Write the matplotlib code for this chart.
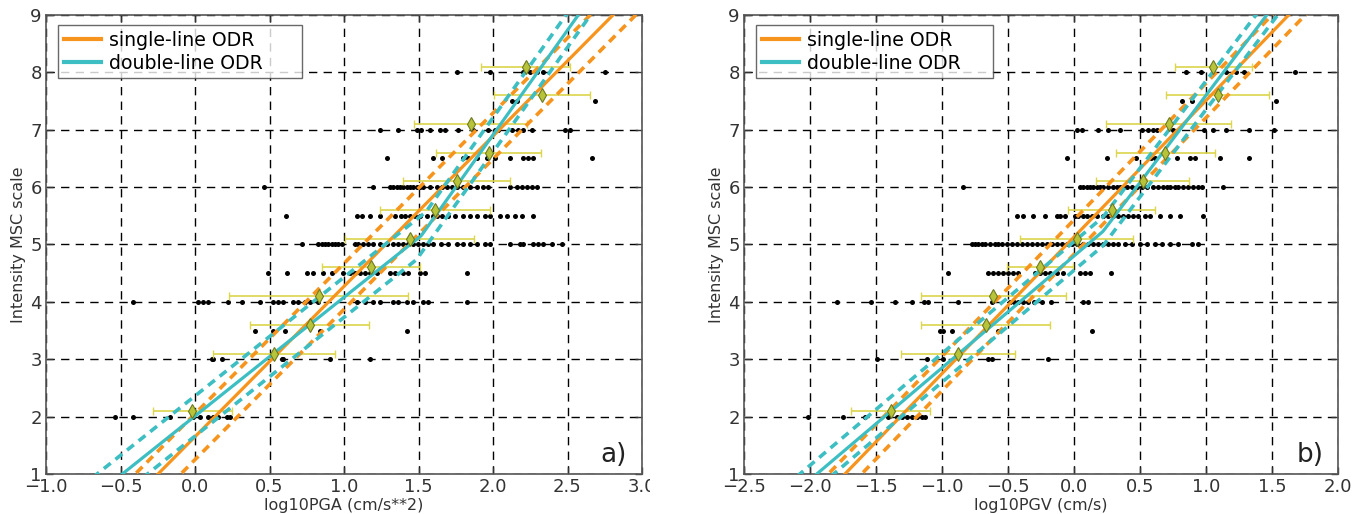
import numpy as np
import matplotlib
matplotlib.use("Agg")
import matplotlib.pyplot as plt
from matplotlib.transforms import Bbox

# ---------------- data: panel a) PGA ----------------
pga_points = {
    2.0: [-0.537, -0.414, -0.168, -0.011, 0.034, 0.089, 0.123, 0.157, 0.213, 0.235],
    3.0: [0.112, 0.123, 0.179, 0.582, 0.593, 0.906, 1.174],
    3.5: [0.403, 0.526, 0.604, 0.839, 1.421],
    4.0: [-0.416, 0.020, 0.054, 0.087, 0.221, 0.315, 0.436, 0.523, 0.557, 0.591, 0.658, 0.691,
          0.738, 0.772, 0.826, 1.087, 1.141, 1.195, 1.242, 1.329, 1.362, 1.423, 1.463, 1.530,
          1.564, 1.826],
    4.5: [0.490, 0.617, 0.752, 0.792, 0.859, 0.919, 0.993, 1.040, 1.074, 1.107, 1.141, 1.174,
          1.221, 1.309, 1.342, 1.396, 1.430, 1.510, 1.544, 1.826],
    5.0: [0.718, 0.826, 0.852, 0.872, 0.893, 0.919, 0.940, 0.960, 0.987, 1.074, 1.094, 1.128,
          1.161, 1.195, 1.242, 1.289, 1.329, 1.362, 1.396, 1.430, 1.463, 1.497, 1.530, 1.564,
          1.597, 1.651, 1.698, 1.758, 1.799, 1.846, 1.893, 1.946, 1.980, 2.114, 2.181, 2.201,
          2.268, 2.302, 2.336, 2.396, 2.463],
    5.5: [0.611, 1.087, 1.121, 1.174, 1.242, 1.342, 1.383, 1.409, 1.443, 1.477, 1.510, 1.557,
          1.597, 1.624, 1.658, 1.698, 1.745, 1.799, 1.846, 1.893, 1.946, 1.980, 2.047, 2.094,
          2.148, 2.195, 2.268],
    6.0: [0.463, 1.195, 1.309, 1.329, 1.356, 1.376, 1.396, 1.423, 1.443, 1.463, 1.490, 1.510,
          1.530, 1.577, 1.624, 1.658, 1.691, 1.725, 1.758, 1.799, 1.846, 1.893, 1.933, 1.966,
          2.114, 2.161, 2.195, 2.228, 2.262, 2.295],
    6.5: [1.289, 1.597, 1.658, 1.799, 1.832, 1.893, 1.960, 2.013, 2.114, 2.201, 2.235, 2.268, 2.664],
    7.0: [1.242, 1.362, 1.490, 1.517, 1.577, 1.644, 1.678, 1.765, 1.866, 1.966, 2.013, 2.034,
          2.128, 2.168, 2.201, 2.262, 2.483, 2.517],
    7.5: [2.125, 2.159, 2.685],
    8.0: [1.758, 1.980, 2.201, 2.248, 2.295, 2.336, 2.752],
}
pga_mean_y = [2.1, 3.1, 3.6, 4.1, 4.6, 5.1, 5.6, 6.1, 6.6, 7.1, 7.6, 8.1]
pga_mean_x = [-0.02, 0.53, 0.77, 0.83, 1.18, 1.44, 1.61, 1.756, 1.97, 1.85, 2.33, 2.22]
pga_err_x = [0.265, 0.41, 0.40, 0.60, 0.33, 0.43, 0.37, 0.36, 0.35, 0.38, 0.32, 0.30]

# single-line ODR (slope, intercept, band half-width in intensity)
pga_single = (2.62, 1.65, 0.40)
# double-line ODR: (slope, intercept, band) for lower and upper branch
pga_double_low = (2.07, 2.01, 0.35)
pga_double_high = (3.65, -0.389, 0.30)

# ---------------- data: panel b) PGV ----------------
pgv_points = {
    2.0: [-2.013, -1.748, -1.583, -1.407, -1.343, -1.305, -1.268, -1.230, -1.192, -1.154, -1.129],
    3.0: [-1.495, -1.116, -0.990, -0.649, -0.624, -0.195],
    3.5: [-1.015, -0.990, -0.927, -0.574, 0.134],
    4.0: [-1.795, -1.538, -1.356, -1.227, -1.136, -1.106, -0.879, -0.621, -0.485, -0.455,
          -0.424, -0.386, -0.348, -0.303, -0.242, -0.174, 0.068, 0.106],
    4.5: [-0.955, -0.652, -0.614, -0.576, -0.538, -0.500, -0.462, -0.424, -0.295, -0.258,
          -0.220, -0.182, -0.129, -0.083, 0.045, 0.083, 0.121, 0.280],
    5.0: [-0.773, -0.750, -0.727, -0.697, -0.674, -0.636, -0.598, -0.576, -0.545, -0.508,
          -0.470, -0.432, -0.394, -0.356, -0.318, -0.280, -0.242, -0.205, -0.167, -0.129,
          -0.091, -0.053, -0.015, 0.023, 0.068, 0.106, 0.144, 0.182, 0.220, 0.258, 0.295,
          0.333, 0.386, 0.439, 0.500, 0.553, 0.614, 0.667, 0.727, 0.788, 0.894, 0.939],
    5.5: [-0.432, -0.386, -0.311, -0.220, -0.129, -0.106, -0.068, 0.008, 0.030, 0.068, 0.098,
          0.136, 0.174, 0.220, 0.258, 0.295, 0.333, 0.371, 0.409, 0.447, 0.485, 0.538, 0.576,
          0.652, 0.727, 0.803, 0.977],
    6.0: [-0.841, 0.045, 0.068, 0.098, 0.121, 0.144, 0.174, 0.197, 0.220, 0.258, 0.295, 0.326,
          0.348, 0.371, 0.402, 0.439, 0.477, 0.515, 0.553, 0.598, 0.636, 0.674, 0.705, 0.727,
          0.765, 0.788, 0.826, 0.864, 0.902, 0.939, 0.970, 1.129],
    6.5: [-0.053, 0.250, 0.470, 0.583, 0.614, 0.780, 0.879, 0.917, 1.106, 1.326],
    7.0: [0.023, 0.061, 0.182, 0.258, 0.348, 0.515, 0.561, 0.598, 0.629, 0.750, 0.985, 1.053,
          1.152, 1.326, 1.515],
    7.5: [0.818, 0.894, 1.530],
    8.0: [0.848, 0.962, 1.053, 1.152, 1.227, 1.288, 1.674],
}
pgv_mean_y = [2.1, 3.1, 3.6, 4.1, 4.6, 5.1, 5.6, 6.1, 6.6, 7.1, 7.6, 8.1]
pgv_mean_x = [-1.39, -0.88, -0.67, -0.61, -0.26, 0.02, 0.285, 0.52, 0.69, 0.716, 1.09, 1.055]
pgv_err_x = [0.30, 0.43, 0.49, 0.55, 0.25, 0.43, 0.33, 0.35, 0.375, 0.47, 0.39, 0.29]

pgv_single = (2.38, 5.13, 0.30)
pgv_double_low = (1.95, 4.80, 0.25)
pgv_double_high = (3.04, 4.56, 0.25)

pga_xticks = [-1.0, -0.5, 0.0, 0.5, 1.0, 1.5, 2.0, 2.5, 3.0]
pgv_xticks = [-2.5, -2.0, -1.5, -1.0, -0.5, 0.0, 0.5, 1.0, 1.5, 2.0]

# ---------------- style ----------------
ORANGE = "#F7941D"
CYAN = "#3DBEC2"
DIAMOND = "#B7C43A"
ERRC = "#DCD64C"

fig = plt.figure(figsize=(13.61, 5.14), dpi=100)
ax1 = fig.add_axes([46 / 1361, 40 / 514, 596 / 1361, 459 / 514])
ax2 = fig.add_axes([744 / 1361, 40 / 514, 594 / 1361, 459 / 514])


def draw(ax, points, mx, my, ex, single, dlow, dhigh, xlim, xticks, xlabel, tag, legw):
    ax.set_xlim(*xlim)
    ax.set_ylim(1, 9)
    for lev, xs in points.items():
        ax.plot(xs, [lev] * len(xs), 'o', color='black', ms=3.6, mew=0, zorder=3)
    ax.errorbar(mx, my, xerr=ex, fmt='none', ecolor=ERRC, elinewidth=1.2,
                capsize=3, capthick=1.0, zorder=4)
    xx = np.linspace(xlim[0], xlim[1], 400)
    b, a, s = single
    ax.plot(xx, a + b * xx, color=ORANGE, lw=2.3, zorder=5, label='single-line ODR')
    for sg in (-1, 1):
        ax.plot(xx, a + b * xx + sg * s, color=ORANGE, lw=2.6, zorder=5,
                dashes=(2.4, 1.7))
    b1, a1, s1 = dlow
    b2, a2, s2 = dhigh
    ax.plot(xx, np.maximum(a1 + b1 * xx, a2 + b2 * xx), color=CYAN, lw=2.3, zorder=5,
            label='double-line ODR')
    for sg in (-1, 1):
        ax.plot(xx, np.maximum(a1 + b1 * xx + sg * s1, a2 + b2 * xx + sg * s2),
                color=CYAN, lw=2.6, zorder=5, dashes=(2.4, 1.7))
    ax.plot(mx, my, 'd', color=DIAMOND, mec='#6E7A1E', mew=0.8, ms=7.5, zorder=6)

    ax.set_xticks(xticks)
    ax.set_xticklabels([f"{t:.1f}".replace('-', '\u2212') for t in xticks])
    ax.set_yticks(range(1, 10))
    ax.tick_params(direction='in', length=5, width=1, top=True, right=True,
                   labelsize=13, colors='#333333', pad=3)
    ax.grid(True, color='black', lw=1.0, dashes=(6, 4.5), zorder=1)
    ax.set_axisbelow(True)
    for sp in ax.spines.values():
        sp.set_color('#555555')
        sp.set_linewidth(1.2)
    ax.set_xlabel(xlabel, fontsize=11.5, color='#333333', labelpad=1)
    ax.set_ylabel('Intensity MSC scale', fontsize=11.5, color='#333333', labelpad=3)
    ax.text(0.975, 0.012, tag, transform=ax.transAxes, ha='right', va='bottom',
            fontsize=19, color='#222222', zorder=7)
    leg = ax.legend(loc='upper left', bbox_to_anchor=(0.02, 0.978, legw, 0.0),
                    mode='expand', borderaxespad=0.0,
                    fontsize=13.6, frameon=True, fancybox=False,
                    borderpad=0.3, labelspacing=0.2, handlelength=2.0,
                    handletextpad=0.4)
    leg.get_frame().set_edgecolor('#444444')
    leg.get_frame().set_linewidth(1.0)
    for h in leg.get_lines():
        h.set_linewidth(3.0)
    leg.set_zorder(8)


draw(ax1, pga_points, pga_mean_x, pga_mean_y, pga_err_x, pga_single, pga_double_low,
     pga_double_high, (-1.0, 3.0), pga_xticks, 'log10PGA (cm/s**2)', 'a)', 0.41)
draw(ax2, pgv_points, pgv_mean_x, pgv_mean_y, pgv_err_x, pgv_single, pgv_double_low,
     pgv_double_high, (-2.5, 2.0), pgv_xticks, 'log10PGV (cm/s)', 'b)', 0.40)

# the left panel's last tick label is cut off in the reference image
last = ax1.get_xticklabels()[-1]
last.set_clip_box(Bbox.from_extents(0, 0, 650, 514))
last.set_clip_on(True)

fig.savefig('out.png', dpi=100)
